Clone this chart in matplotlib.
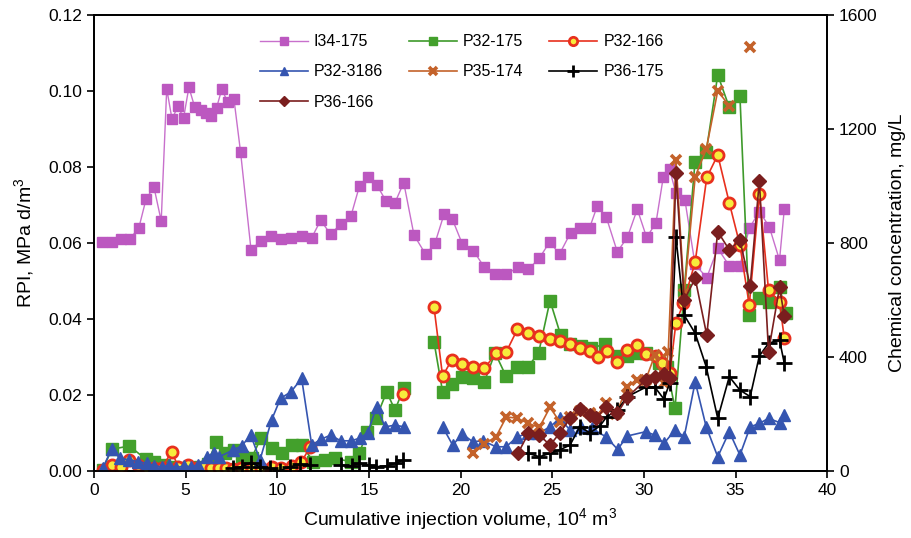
import numpy as np
import matplotlib
matplotlib.use('Agg')
import matplotlib.pyplot as plt

plt.rcParams['font.family'] = ['Liberation Sans', 'DejaVu Sans']
plt.rcParams['mathtext.fontset'] = 'custom'
plt.rcParams['mathtext.rm'] = 'Liberation Sans'
plt.rcParams['mathtext.it'] = 'Liberation Sans'

nan = np.nan

# RPI (left axis)
i34_x = [0.42, 0.96, 1.45, 1.96, 2.45, 2.84, 3.27, 3.67, 3.97, 4.26, 4.58, 4.89, 5.18, 5.49, 5.82, 6.11,
         6.40, 6.69, 6.98, 7.29, 7.64, 8.00, 8.57, 9.11, 9.66, 10.20, 10.75, 11.33, 11.88, 12.37, 12.91,
         13.46, 14.02, 14.49, 14.93, 15.42, 15.93, 16.42, 16.90, 17.46, 18.10, 18.60, 19.10, 19.55, 20.10,
         20.70, 21.30, 21.90, 22.50, 23.13, 23.70, 24.30, 24.86, 25.40, 26.00, 26.50, 27.04, 27.46, 27.95,
         28.55, 29.10, 29.64, 30.15, 30.66, 31.06, 31.40, 31.74, 32.24, 32.79, 33.43, 34.03, 34.66, 35.24,
         35.75, 36.30, 36.84, 37.40, 37.66]
i34_y = [0.0603, 0.0602, 0.0610, 0.0611, 0.0640, 0.0715, 0.0748, 0.0658, 0.1006, 0.0926, 0.0960, 0.0929,
         0.1010, 0.0959, 0.0950, 0.0941, 0.0934, 0.0956, 0.1006, 0.0970, 0.0978, 0.0839, 0.0582, 0.0606,
         0.0618, 0.0611, 0.0613, 0.0618, 0.0614, 0.0660, 0.0623, 0.0650, 0.0671, 0.0751, 0.0774, 0.0754,
         0.0711, 0.0706, 0.0759, 0.0621, 0.0570, 0.0599, 0.0676, 0.0663, 0.0597, 0.0580, 0.0536, 0.0518,
         0.0518, 0.0536, 0.0531, 0.0560, 0.0603, 0.0571, 0.0627, 0.0639, 0.0640, 0.0698, 0.0668, 0.0577,
         0.0615, 0.0689, 0.0615, 0.0653, 0.0774, 0.0794, 0.0733, 0.0713, 0.0544, 0.0509, 0.0586, 0.0540,
         0.0540, 0.0639, 0.0683, 0.0643, 0.0555, 0.0689]

# chemical concentration, mg/L (right axis)
p32_175_x = [0.47, 0.96, 1.93, 2.84, 3.3, 3.8, 4.3, 4.8, 5.3, 5.8, 6.2, 6.66, 7.15, 7.64, 8.1, 8.6, 9.1, 9.69,
             10.24, 10.78, 11.33, 11.97, 12.6, 13.15, 14.0, 14.48, 14.9, 15.39, 15.97, 16.42, 16.9, nan,
             18.55, 19.02, 19.55, 20.1, 20.7, 21.3, 21.88, 22.48, 23.1, 23.66, 24.26, 24.88, 25.46, 25.97,
             26.55, 27.1, 27.88, 28.55, 29.1, 29.6, 30.1, 30.8, 31.24, 31.7, 32.2, 32.79, 33.4, 34.03, 34.66,
             35.24, 35.75, 36.3, 36.8, 37.4, 37.75]
p32_175_y = [3, 76, 88, 41, 30, 20, 15, 12, 10, 15, 25, 103, 62, 74, 50, 45, 115, 80, 62, 91, 91, 33, 39, 44,
             33, 62, 138, 185, 278, 214, 290, nan, 454, 278, 304, 329, 325, 313, 415, 333, 364, 364, 415, 598,
             477, 446, 439, 430, 446, 404, 404, 415, 415, 378, 366, 220, 635, 1085, 1120, 1390, 1276, 1316,
             547, 606, 594, 647, 553]

p32_166_x = [0.47, 0.96, 1.45, 1.93, 2.42, 2.87, 3.3, 3.7, 4.24, 4.6, 5.15, 5.6, 6.0, 6.4, 6.8, 7.2, 7.6, 8.0,
             8.6, 9.1, 9.7, 10.2, 10.8, 11.3, 11.8, nan, 16.88, nan, 18.55, 19.02, 19.51, 20.1, 20.66, 21.3,
             21.93, 22.5, 23.1, 23.7, 24.3, 24.88, 25.4, 25.97, 26.5, 27.06, 27.48, 27.97, 28.55, 29.1, 29.6,
             30.1, 30.66, 31.0, 31.42, 31.75, 32.15, 32.8, 33.43, 34.03, 34.66, 35.24, 35.75, 36.3, 36.8,
             37.4, 37.66]
p32_166_y = [5, 21, 15, 39, 20, 12, 10, 10, 68, 15, 21, 12, 15, 10, 12, 10, 8, 10, 9, 12, 15, 12, 18, 30, 85,
             nan, 270, nan, 576, 333, 389, 375, 364, 360, 413, 419, 497, 483, 474, 462, 457, 445, 430, 422,
             399, 422, 383, 425, 442, 410, 404, 378, 345, 520, 588, 734, 1030, 1109, 941, 793, 582, 972, 635,
             594, 466]

p32_3186_x = [0.47, 0.96, 1.42, 1.93, 2.42, 2.87, 3.3, 3.7, 4.1, 4.5, 4.9, 5.3, 5.7, 6.15, 6.55, 6.84, 7.6,
              8.06, 8.55, 9.06, 9.69, 10.18, 10.75, 11.33, 11.88, 12.37, 12.91, 13.46, 14.02, 14.49, 14.93,
              15.42, 15.88, 16.42, 16.93, nan, 19.02, 19.57, 20.1, 20.66, 21.24, 21.93, 22.48, 23.1, 23.66,
              24.24, 24.88, 25.4, 25.97, 26.55, 27.15, 27.93, 28.57, 29.1, 30.1, 30.6, 31.1, 31.7, 32.2, 32.8,
              33.4, 34.03, 34.66, 35.24, 35.8, 36.3, 36.8, 37.4, 37.66]
p32_3186_y = [9, 76, 45, 39, 33, 27, 18, 15, 20, 12, 18, 15, 22, 50, 64, 50, 74, 88, 126, 39, 179, 255, 278,
              325, 91, 111, 126, 106, 106, 115, 134, 226, 155, 161, 155, nan, 155, 91, 130, 103, 106, 85, 85,
              120, 132, 132, 155, 185, 144, 155, 150, 120, 76, 123, 138, 126, 97, 144, 120, 313, 155, 50, 138,
              56, 155, 167, 185, 170, 196]

p35_174_x = [20.7, 21.3, 21.93, 22.5, 23.1, 23.7, 24.3, 24.88, 25.4, 25.97, 26.5, 27.06, 27.5, 27.93, 28.5,
             29.06, 29.6, 30.1, 30.6, 31.1, 31.33, 31.75, 32.2, 32.8, 33.4, 34.03, 34.66, nan, 35.8]
p35_174_y = [62, 95, 120, 190, 185, 167, 153, 224, 173, 190, 210, 202, 195, 237, 200, 294, 320, 320, 407, 308,
             419, 1091, 620, 1033, 1129, 1334, 1281, nan, 1489]

p36_175_x = [7.6, 8.06, 8.55, 9.06, 9.6, 10.15, 10.7, 11.24, 11.78, nan, 13.5, 14.06, 14.48, 15.0, 15.4,
             15.97, 16.48, 16.88, nan, 23.7, 24.3, 24.88, 25.4, 25.97, 26.5, 27.06, 27.6, 27.97, 28.55, 29.1,
             30.1, 30.6, 31.1, 31.4, 31.75, 32.2, 32.8, 33.4, 34.03, 34.66, 35.24, 35.8, 36.3, 36.8, 37.4, 37.66]
p36_175_y = [9, 15, 29, 15, 9, 1, 15, 23, 21, nan, 21, 18, 27, 21, 15, 18, 27, 39, nan, 62, 50, 62, 74, 91,
             155, 134, 158, 190, 214, 261, 294, 294, 252, 308, 820, 547, 483, 366, 185, 331, 284, 261, 404,
             448, 460, 378]

p36_166_x = [23.13, 23.7, 24.3, 24.88, 25.4, 25.97, 26.5, 27.06, 27.4, 27.93, 28.55, 29.1, 30.1, 30.6, 31.1,
             31.4, 31.75, 32.2, 32.8, 33.43, 34.03, 34.66, 35.24, 35.8, 36.3, 36.8, 37.4, 37.66]
p36_166_y = [62, 132, 126, 91, 132, 185, 216, 196, 185, 225, 202, 259, 320, 331, 340, 325, 1045, 600, 676,
             477, 840, 776, 811, 649, 1019, 419, 645, 544]

fig = plt.figure(figsize=(9.12, 5.38), dpi=100)
ax = fig.add_axes([0.103, 0.1245, 0.804, 0.8475])
ax2 = ax.twinx()

h_i34, = ax.plot(i34_x, i34_y, '-s', color='#C870CC', mfc='#BC58C0', mec='#BC58C0',
                 ms=7.5, lw=1.0, label='I34-175')

h_g, = ax2.plot(p32_175_x, p32_175_y, '-s', color='#3E9A2B', mfc='#43A02C', mec='#43A02C',
                ms=8, lw=1.2, label='P32-175')
h_r, = ax2.plot(p32_166_x, p32_166_y, '-o', color='#E8301E', mfc='#F7EC3C', mec='#E8301E',
                ms=8, mew=2.0, lw=1.2, label='P32-166')
h_b, = ax2.plot(p32_3186_x, p32_3186_y, '-^', color='#3555B0', mfc='#3555B0', mec='#3555B0',
                ms=8, lw=1.2, label='P32-3186')
h_o, = ax2.plot(p35_174_x, p35_174_y, '-x', color='#C4622A', mec='#C4622A',
                ms=7, mew=2.6, lw=1.2, label='P35-174')
h_k, = ax2.plot(p36_175_x, p36_175_y, '-+', color='black', ms=11, mew=2.0, lw=1.2, label='P36-175')
h_d, = ax2.plot(p36_166_x, p36_166_y, '-D', color='#7A1E1E', mfc='#7A1E1E', mec='#7A1E1E',
                ms=7, lw=1.2, label='P36-166')

ax.set_xlim(0, 40)
ax.set_ylim(0, 0.12)
ax2.set_ylim(0, 1600)
ax.set_xticks(np.arange(0, 41, 5))
ax.set_yticks(np.arange(0, 0.121, 0.02))
ax.set_yticklabels(['%.2f' % v for v in np.arange(0, 0.121, 0.02)])
ax2.set_yticks(np.arange(0, 1601, 400))

for a in (ax, ax2):
    a.tick_params(labelsize=12.5, width=1.2, length=5)
    for s in a.spines.values():
        s.set_linewidth(1.3)

ax.set_xlabel('Cumulative injection volume, 10$^{4}$ m$^{3}$', fontsize=14, labelpad=6)
ax.set_ylabel('RPI, MPa d/m$^{3}$', fontsize=14, labelpad=9)
ax2.set_ylabel('Chemical concentration, mg/L', fontsize=14, labelpad=8)

# excel-style legend laid out row by row
handles = [h_i34, h_b, h_d, h_g, h_o, h_r, h_k]
leg = ax2.legend(handles=handles, ncol=3, loc='upper left', bbox_to_anchor=(0.226, 0.958),
                 frameon=False, fontsize=11.5, handlelength=3.0, handletextpad=0.4,
                 columnspacing=1.6, labelspacing=0.95, markerscale=0.75, borderaxespad=0,
                 borderpad=0)

fig.savefig('out.png', dpi=100)
